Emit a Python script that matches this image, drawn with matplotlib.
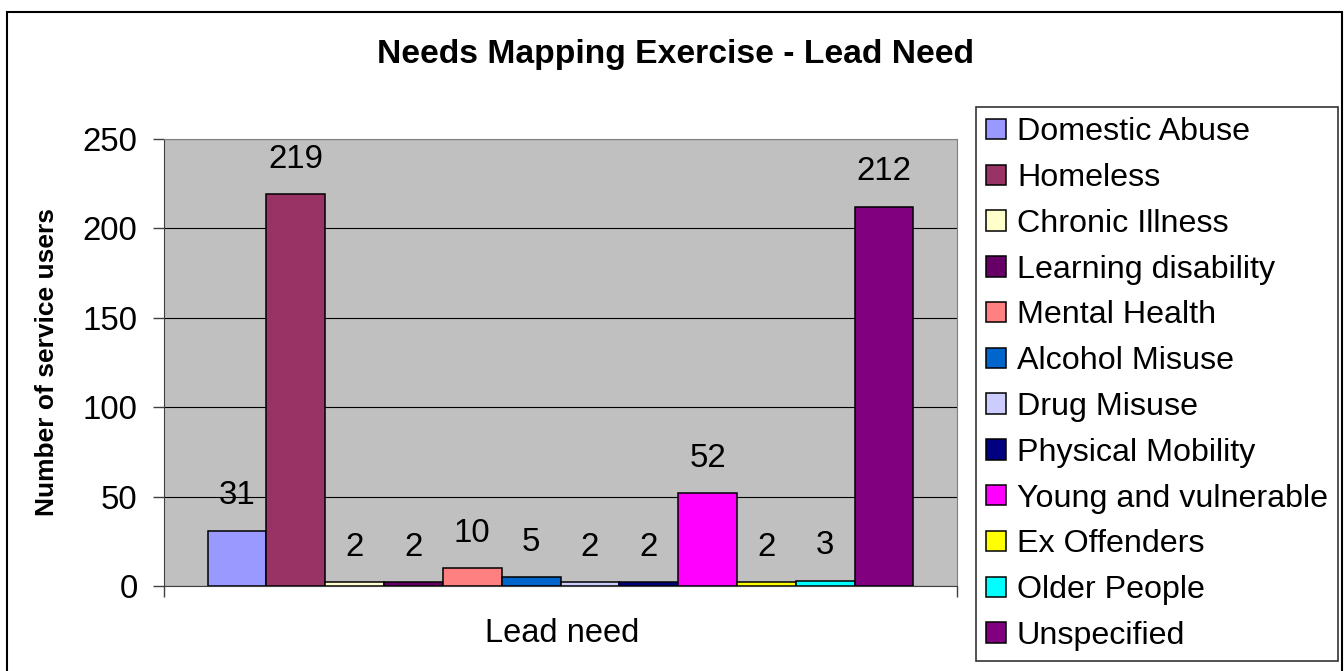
import matplotlib
matplotlib.use('Agg')
import matplotlib.pyplot as plt
from matplotlib.patches import Rectangle

plt.rcParams['font.family'] = ['Liberation Sans', 'DejaVu Sans']

needs = ['Domestic Abuse', 'Homeless', 'Chronic Illness', 'Learning disability',
         'Mental Health', 'Alcohol Misuse', 'Drug Misuse', 'Physical Mobility',
         'Young and vulnerable', 'Ex Offenders', 'Older People', 'Unspecified']
users = [31, 219, 2, 2, 10, 5, 2, 2, 52, 2, 3, 212]
colors = ['#9999FF', '#993366', '#FFFFCC', '#660066', '#FF8080', '#0066CC',
          '#CCCCFF', '#000080', '#FF00FF', '#FFFF00', '#00FFFF', '#800080']

W, H = 1344, 671
fig = plt.figure(figsize=(W / 100, H / 100), dpi=100)
ax = fig.add_axes([164 / W, 1 - 586 / H, (957 - 164) / W, (586 - 139) / H])
ax.set_facecolor('#C0C0C0')

# outer chart frame
fig.patches.append(Rectangle((7 / W, -0.02), (1342 - 7) / W, 1 - 12 / H + 0.02,
                             transform=fig.transFigure, fill=False,
                             edgecolor='black', linewidth=1.5))

# one bar per need, side by side in a single category
for i, (name, val, c) in enumerate(zip(needs, users, colors)):
    bars = ax.bar(i, val, width=1.0, color=c, edgecolor='black',
                  linewidth=1.1, label=name, zorder=3)
    ax.bar_label(bars, padding=14, fontsize=23.8, zorder=4)

gap = 0.74
ax.set_xlim(-0.5 - gap, len(needs) - 0.5 + gap)
ax.set_ylim(0, 250)
ax.set_yticks(range(0, 251, 50))
ax.set_xticks([-0.5 - gap, len(needs) - 0.5 + gap])
ax.set_xticklabels(['', ''])
ax.yaxis.grid(True, color='black', linewidth=0.8, zorder=0)
ax.set_axisbelow(True)
ax.tick_params(axis='both', direction='out', length=8, width=1,
               color='#404040', labelsize=23.8, pad=11)
for side in ['top', 'right']:
    ax.spines[side].set_color('#808080')
for side in ['left', 'bottom']:
    ax.spines[side].set_color('#404040')

fig.text(675 / W, 1 - 55 / H, 'Needs Mapping Exercise - Lead Need',
         ha='center', va='center', fontsize=24.2, fontweight='bold')
fig.text(47 / W, 1 - 362 / H, 'Number of service users', rotation=90,
         ha='center', va='center', fontsize=19, fontweight='bold')
fig.text(562 / W, 1 - 633 / H, 'Lead need', ha='center', va='center',
         fontsize=23.5)

leg = fig.legend(loc='upper left', bbox_to_anchor=(976 / W, 1 - 107 / H),
                 fontsize=23.2, frameon=True, fancybox=False, shadow=False,
                 handlelength=0.6, handleheight=0.6, handletextpad=0.35,
                 labelspacing=0.49, borderpad=0.32, borderaxespad=0)
leg.get_frame().set_edgecolor('black')
leg.get_frame().set_linewidth(1.2)

fig.savefig('out.png', dpi=100)
